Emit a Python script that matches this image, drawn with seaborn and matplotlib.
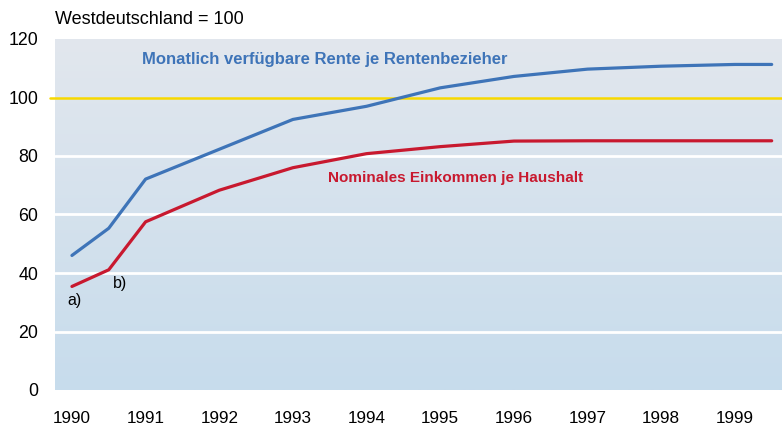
import numpy as np
import pandas as pd
import matplotlib
matplotlib.use("Agg")
import matplotlib.pyplot as plt
from matplotlib.colors import LinearSegmentedColormap
import seaborn as sns

# data (Westdeutschland = 100)
years = [1990, 1990.5, 1991, 1992, 1993, 1994, 1995, 1996, 1997, 1998, 1999, 1999.5]
rente = [46.0, 55.3, 72.1, 82.3, 92.5, 97.0, 103.3, 107.2, 109.7, 110.7, 111.3, 111.3]
einkommen = [35.4, 41.1, 57.5, 68.3, 76.0, 80.8, 83.2, 85.1, 85.2, 85.2, 85.2, 85.2]
year_labels = [1990, 1991, 1992, 1993, 1994, 1995, 1996, 1997, 1998, 1999]
y_ticks = [0, 20, 40, 60, 80, 100, 120]

name_rente = "Monatlich verfügbare Rente je Rentenbezieher"
name_eink = "Nominales Einkommen je Haushalt"

df = pd.DataFrame({
    "Jahr": years * 2,
    "Wert": rente + einkommen,
    "Reihe": [name_rente] * len(years) + [name_eink] * len(years),
})

sns.set_theme(style="white")
plt.rcParams["font.family"] = ["Liberation Sans", "DejaVu Sans"]
plt.rcParams["text.color"] = "black"

blue = "#3E74B8"
red = "#C8192F"
yellow = "#F7D800"

fig = plt.figure(figsize=(7.82, 4.25), dpi=100)
ax = fig.add_axes([55 / 782, 1 - 390 / 425, 1 - 55 / 782, 351 / 425])

xmin, xmax = 1989.77, 1999.64

# background gradient
cmap = LinearSegmentedColormap.from_list("bg", ["#C7DCEC", "#E2E7EE"])
grad = np.linspace(0, 1, 256).reshape(-1, 1)
ax.imshow(grad, cmap=cmap, origin="lower", aspect="auto",
          extent=(xmin, xmax, 0, 120), zorder=0)

for v in [20, 40, 60, 80]:
    ax.axhline(v, color="white", lw=2.0, zorder=1)

sns.lineplot(data=df, x="Jahr", y="Wert", hue="Reihe",
             palette={name_rente: blue, name_eink: red},
             linewidth=2.3, legend=False, ax=ax, zorder=3)

ax.axhline(100, color=yellow, lw=1.8, zorder=2, xmin=-0.007, clip_on=False)

ax.set_xlim(xmin, xmax)
ax.set_ylim(0, 120)
for s in ax.spines.values():
    s.set_visible(False)

ax.set_xticks(year_labels)
ax.set_xticklabels([str(y) for y in year_labels], fontsize=12.3)
ax.set_xticks(np.arange(1990.25, 1999.6, 0.5), minor=True)
ax.tick_params(axis="x", which="major", length=0, pad=15, labelcolor="black")
ax.tick_params(axis="x", which="minor", direction="in", length=3.5,
               width=1.5, color="white")
ax.set_yticks(y_ticks)
ax.set_yticklabels([str(v) for v in y_ticks], fontsize=12.8)
ax.tick_params(axis="y", length=0, pad=12, labelcolor="black")
ax.set_xlabel("")
ax.set_ylabel("")

ax.text(1990.95, 112.9, name_rente, color=blue,
        fontsize=12, fontweight="bold", va="center", ha="left")
ax.text(1993.47, 72.4, name_eink, color=red,
        fontsize=11, fontweight="bold", va="center", ha="left")
ax.text(1990.04, 30.6, "a)", fontsize=11.5, ha="center", va="center")
ax.text(1990.65, 36.5, "b)", fontsize=11.5, ha="center", va="center")

fig.text(55 / 782, 1 - 20 / 425, "Westdeutschland = 100", fontsize=13,
         ha="left", va="center")

fig.savefig("out.png", dpi=100)
